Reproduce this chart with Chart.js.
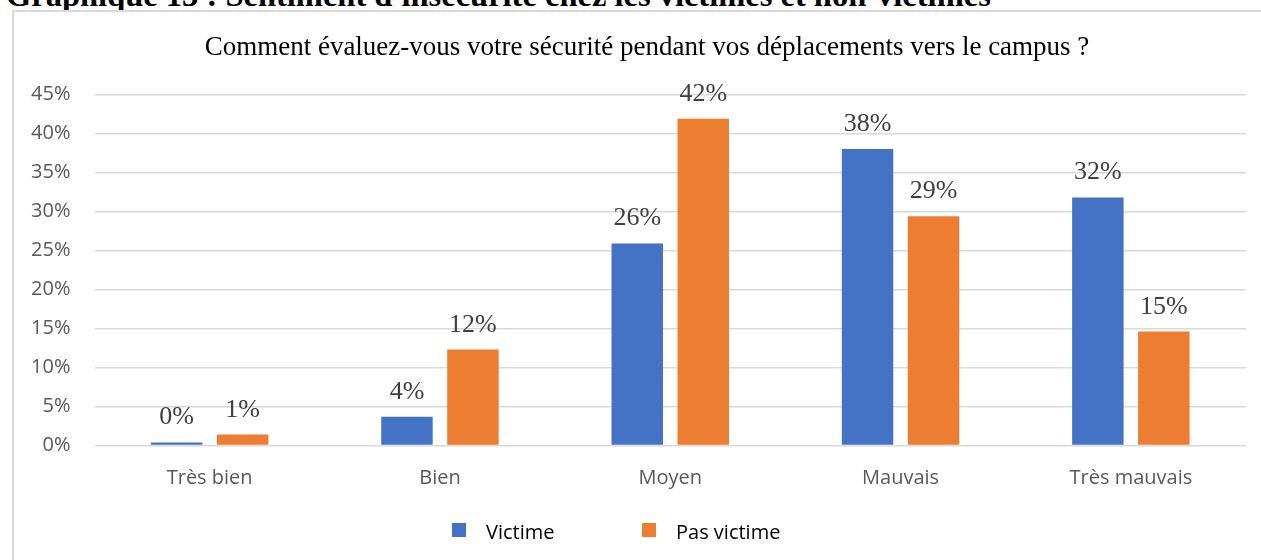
<!DOCTYPE html>
<html lang="fr">
  <head>
    <meta charset="UTF-8" />
    <title>Graphique 13</title>
    <script src="https://cdn.jsdelivr.net/npm/chart.js@4.4.0/dist/chart.umd.min.js"></script>
    <style>
      body { margin: 0; background: #fff; overflow: hidden; width: 1261px; height: 560px; position: relative; }
      #entete {
        position: absolute; left: 6px; top: -21px; white-space: nowrap;
        font: bold 32.5px "Liberation Serif", "Times New Roman", serif; line-height: 32px; color: #000;
      }
      #cadre {
        position: absolute; left: 12px; top: 10px; width: 1272px; height: 560px;
        border: 2px solid #d9d9d9; box-sizing: border-box; background: #fff;
      }
      #cadre canvas { position: absolute; left: 0; top: 0; }
    </style>
  </head>
  <body>
    <div id="entete">Graphique 13 : Sentiment d'insécurité chez les victimes et non-victimes</div>
    <div id="cadre"><canvas id="graphique" width="1266" height="548"></canvas></div>

    <script>
      // Données (en %)
      const categories = ['Très bien', 'Bien', 'Moyen', 'Mauvais', 'Très mauvais'];
      const victime = [0.4, 3.7, 25.9, 38.0, 31.8];
      const pasVictime = [1.4, 12.3, 41.9, 29.4, 14.6];
      const titre = 'Comment évaluez-vous votre sécurité pendant vos déplacements vers le campus ?';

      // titre centré sur toute la largeur du cadre
      const titreCentre = {
        id: 'titreCentre',
        afterDraw(chart) {
          const ctx = chart.ctx;
          ctx.save();
          ctx.font = '27px "Liberation Serif", "Times New Roman", serif';
          ctx.fillStyle = '#000';
          ctx.textAlign = 'center';
          ctx.textBaseline = 'alphabetic';
          ctx.fillText(titre, chart.width / 2, 42.5);
          ctx.restore();
        }
      };

      // étiquettes de valeurs au-dessus des barres
      const etiquettes = {
        id: 'etiquettes',
        afterDatasetsDraw(chart) {
          const ctx = chart.ctx;
          ctx.save();
          ctx.font = '26px "Liberation Serif", "Times New Roman", serif';
          ctx.fillStyle = '#404040';
          ctx.textAlign = 'center';
          ctx.textBaseline = 'alphabetic';
          chart.data.datasets.forEach((ds, i) => {
            chart.getDatasetMeta(i).data.forEach((bar, j) => {
              ctx.fillText(Math.round(ds.data[j]) + '%', bar.x, bar.y - 18);
            });
          });
          ctx.restore();
        }
      };

      // légende dessinée à la main (écart carré / texte plus large que celui de Chart.js)
      const legende = {
        id: 'legende',
        afterDraw(chart) {
          const ctx = chart.ctx;
          const pos = [438, 628];
          ctx.save();
          ctx.font = '20px "Open Sans", sans-serif';
          ctx.textBaseline = 'alphabetic';
          chart.data.datasets.forEach((ds, i) => {
            ctx.fillStyle = ds.backgroundColor;
            ctx.fillRect(pos[i], 511, 14, 14);
            ctx.fillStyle = '#000';
            ctx.fillText(ds.label, pos[i] + 34, 527);
          });
          ctx.restore();
        }
      };

      const ctx = document.getElementById('graphique').getContext('2d');
      new Chart(ctx, {
        type: 'bar',
        data: {
          labels: categories,
          datasets: [
            { label: 'Victime', data: victime, backgroundColor: '#4472C4' },
            { label: 'Pas victime', data: pasVictime, backgroundColor: '#ED7D31' }
          ]
        },
        options: {
          responsive: false,
          animation: false,
          layout: { padding: { left: 10.5, right: 34, top: 82.5, bottom: 64.5 } },
          datasets: { bar: { categoryPercentage: 0.573, barPercentage: 0.78 } },
          plugins: {
            legend: { display: false },
            tooltip: { enabled: false },
            title: { display: false }
          },
          scales: {
            x: {
              grid: { display: false },
              border: { display: false },
              ticks: { color: '#595959', padding: 13, font: { family: '"Open Sans", sans-serif', size: 20 } },
              afterFit(scale) { scale.height = 50; }
            },
            y: {
              min: 0,
              max: 45,
              grid: { color: '#d9d9d9', lineWidth: 1.5, drawTicks: false },
              border: { display: false },
              ticks: {
                stepSize: 5,
                color: '#595959',
                padding: 24,
                font: { family: '"Open Sans", sans-serif', size: 20 },
                callback: v => v + '%'
              },
              afterFit(scale) { scale.width = 70; }
            }
          }
        },
        plugins: [titreCentre, etiquettes, legende]
      });
    </script>
  </body>
</html>
